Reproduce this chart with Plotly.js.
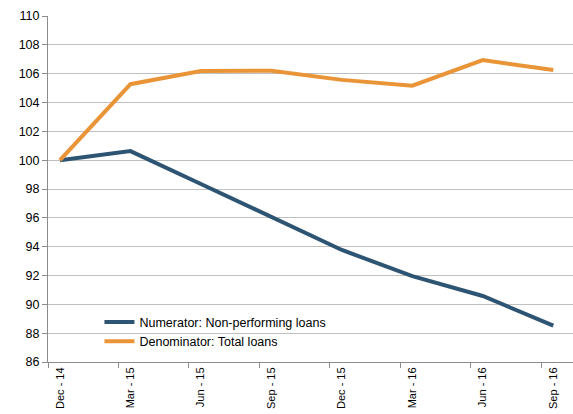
<!DOCTYPE html>
<html>
<head>
<meta charset="utf-8">
<script src="https://cdn.plot.ly/plotly-3.0.1.min.js"></script>
<style>html,body{margin:0;padding:0;background:#fff;}#chart{width:573px;height:414px;}</style>
</head>
<body>
<div id="chart"></div>
<script>
const categories = ["Dec - 14","Mar - 15","Jun - 15","Sep - 15","Dec - 15","Mar - 16","Jun - 16","Sep - 16"];
const numerator = [100, 100.63, 98.35, 96.08, 93.77, 91.95, 90.58, 88.52];
const denominator = [100, 105.27, 106.18, 106.2, 105.57, 105.17, 106.94, 106.25];
const numeratorName = "Numerator: Non-performing loans";
const denominatorName = "Denominator: Total loans";
const yTicks = [86,88,90,92,94,96,98,100,102,104,106,108,110];

const idx = categories.map((c,i)=>i);
const font = "Liberation Sans, Arial, sans-serif";

const traces = [
  {x: idx, y: numerator, name: numeratorName, type: "scatter", mode: "lines",
   line: {color: "#2D5573", width: 4}},
  {x: idx, y: denominator, name: denominatorName, type: "scatter", mode: "lines",
   line: {color: "#EA9438", width: 4}}
];

const layout = {
  width: 573, height: 414,
  margin: {l: 48, r: 0, t: 16, b: 52},
  paper_bgcolor: "#fff", plot_bgcolor: "#fff",
  font: {family: font, size: 11, color: "#000"},
  showlegend: true,
  legend: {x: 0.098, y: 0.158, xanchor: "left", yanchor: "top", bgcolor: "rgba(0,0,0,0)",
           font: {family: font, size: 12.5, color: "#000"}, itemwidth: 30, tracegroupgap: 0},
  xaxis: {
    range: [-0.17, 7.28], tickmode: "array", tickvals: idx, ticktext: categories,
    tickangle: -90, ticks: "", showgrid: false, zeroline: false,
    showline: true, linecolor: "#8c8c8c", linewidth: 1,
    tickfont: {family: font, size: 11, color: "#000"},
    minor: {tickmode: "array", tickvals: idx.map(i => i - 0.17), ticks: "outside", ticklen: 5, tickcolor: "#8c8c8c", showgrid: false}
  },
  yaxis: {
    range: [86, 110], tickmode: "array", tickvals: yTicks,
    ticks: "outside", ticklen: 5, tickcolor: "#8c8c8c",
    showgrid: true, gridcolor: "#c0c0c0", gridwidth: 1, zeroline: false,
    showline: true, linecolor: "#8c8c8c", linewidth: 1,
    tickfont: {family: font, size: 12.5, color: "#000"}
  }
};

Plotly.newPlot("chart", traces, layout, {displayModeBar: false, staticPlot: true});
</script>
</body>
</html>
